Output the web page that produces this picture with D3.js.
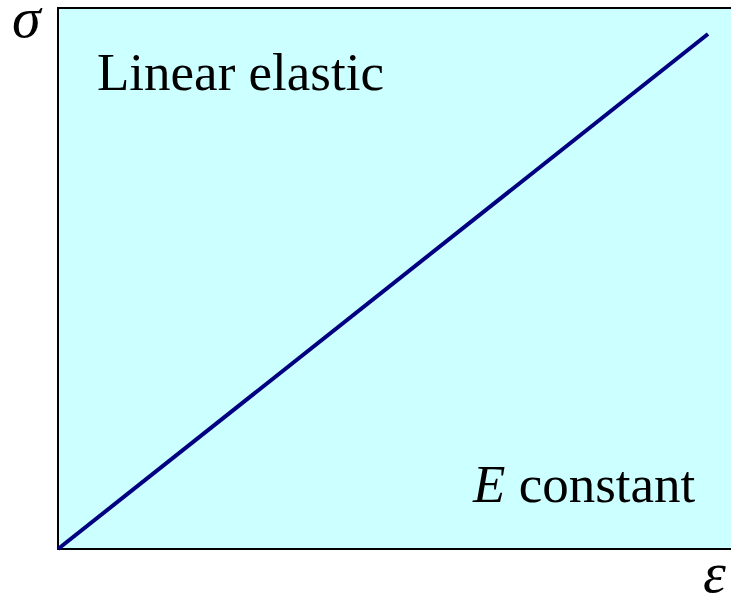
<!DOCTYPE html>
<html>
<head>
<meta charset="utf-8">
<script src="https://cdn.jsdelivr.net/npm/d3@7"></script>
<style>
  body { margin: 0; background: #fff; }
</style>
</head>
<body>
<div id="chart"></div>
<script>
// stress-strain, linear elastic: values in relative units
let strain = [0, 1],
    stress = [0, 1];
let labels = ['Linear elastic', 'constant'];

let width = 731, height = 599,
    serif = 'Times New Roman, Liberation Serif, Tinos, DejaVu Serif, serif';

let svg = d3.select('#chart').append('svg')
    .attr('width', width)
    .attr('height', height);

let x = d3.scaleLinear().domain([0, 1]).range([58, 708]),
    y = d3.scaleLinear().domain([0, 1]).range([549, 34]);

// plot area (right side runs off the page)
svg.append('rect')
    .attr('x', 58)
    .attr('y', 8)
    .attr('width', 700)
    .attr('height', 541)
    .attr('fill', '#ccffff')
    .attr('stroke', '#000')
    .attr('stroke-width', 2);

svg.append('path')
    .datum(strain.map((d, i) => [d, stress[i]]))
    .attr('fill', 'none')
    .attr('stroke', '#000080')
    .attr('stroke-width', 4)
    .attr('d', d3.line().x(d => x(d[0])).y(d => y(d[1])));

svg.append('text')
    .attr('x', 97)
    .attr('y', 90)
    .style('font-family', serif)
    .style('font-size', '53px')
    .text(labels[0]);

let t = svg.append('text')
    .attr('x', 473)
    .attr('y', 502)
    .style('font-family', serif)
    .style('font-size', '53px');
t.append('tspan').style('font-style', 'italic').text('E');
t.append('tspan').text(' ' + labels[1]);

svg.append('text')
    .attr('x', 12)
    .attr('y', 37)
    .style('font-family', serif)
    .style('font-size', '58px')
    .style('font-style', 'italic')
    .text('σ');

svg.append('text')
    .attr('x', 703)
    .attr('y', 592)
    .style('font-family', serif)
    .style('font-size', '58px')
    .style('font-style', 'italic')
    .text('ε');
</script>
</body>
</html>
